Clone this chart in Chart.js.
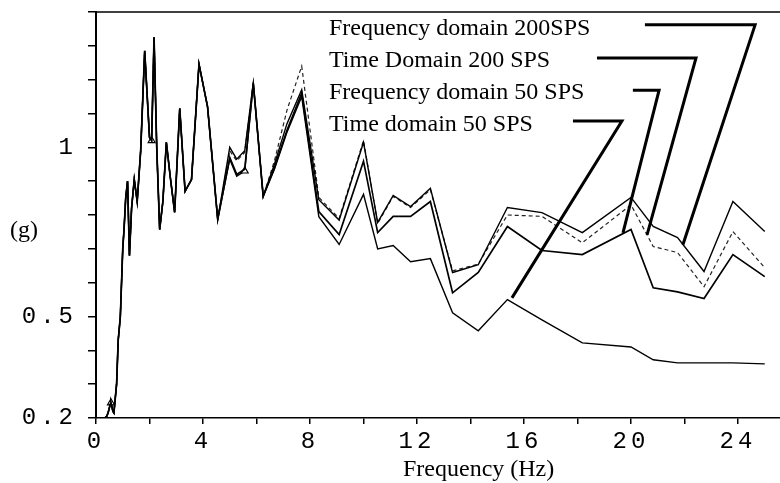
<!DOCTYPE html>
<html>
<head>
<meta charset="utf-8">
<script src="https://cdn.jsdelivr.net/npm/chart.js@4.4.1/dist/chart.umd.min.js"></script>
<style>
  html, body { margin: 0; padding: 0; background: #fff; }
</style>
</head>
<body>
<canvas id="myChart" width="780" height="483"></canvas>
<script>
// frequencies (Hz)
const freq = [0.25, 0.33, 0.4, 0.45, 0.5, 0.53, 0.56, 0.59, 0.63, 0.67,
  0.71, 0.77, 0.83, 0.91, 1.0, 1.05, 1.11, 1.18, 1.25, 1.33,
  1.43, 1.54, 1.67, 1.82, 2.0, 2.08, 2.17, 2.27, 2.38, 2.5,
  2.63, 2.78, 2.94, 3.13, 3.33, 3.57, 3.85, 4.17, 4.55, 5.0,
  5.26, 5.56, 5.88, 6.25, 6.67, 7.14, 7.69, 8.33, 9.09, 10.0,
  10.53, 11.11, 11.76, 12.5, 13.33, 14.29, 15.38, 16.67, 18.18, 20.0,
  20.83, 21.74, 22.73, 23.81, 25.0];

// (g)
const freq_200 = [0.195, 0.2, 0.205, 0.215, 0.23, 0.24, 0.245, 0.235, 0.22, 0.215,
  0.25, 0.3, 0.43, 0.5, 0.7, 0.76, 0.85, 0.9, 0.68, 0.82,
  0.905, 0.84, 0.99, 1.285, 1.03, 1.02, 1.325, 1.0, 0.757, 0.84,
  1.015, 0.91, 0.808, 1.115, 0.87, 0.905, 1.246, 1.12, 0.787, 1.0,
  0.965, 0.99, 1.19, 0.855, 0.95, 1.07, 1.17, 0.845, 0.785, 1.015,
  0.778, 0.858, 0.825, 0.879, 0.63, 0.653, 0.822, 0.807, 0.748, 0.852,
  0.766, 0.733, 0.633, 0.84, 0.751];
const time_200 = [0.195, 0.2, 0.205, 0.215, 0.23, 0.24, 0.245, 0.235, 0.22, 0.215,
  0.25, 0.3, 0.43, 0.5, 0.7, 0.76, 0.85, 0.9, 0.68, 0.82,
  0.905, 0.84, 0.99, 1.285, 1.03, 1.02, 1.325, 1.0, 0.757, 0.84,
  1.015, 0.91, 0.808, 1.115, 0.87, 0.905, 1.246, 1.12, 0.787, 0.99,
  0.96, 0.985, 1.19, 0.855, 0.96, 1.11, 1.24, 0.852, 0.79, 1.02,
  0.775, 0.855, 0.822, 0.875, 0.635, 0.655, 0.8, 0.796, 0.718, 0.83,
  0.707, 0.689, 0.588, 0.751, 0.644];
const freq_50 = [0.195, 0.2, 0.205, 0.215, 0.23, 0.24, 0.245, 0.235, 0.22, 0.215,
  0.25, 0.3, 0.43, 0.5, 0.7, 0.76, 0.85, 0.9, 0.68, 0.82,
  0.905, 0.84, 0.99, 1.285, 1.03, 1.02, 1.325, 1.0, 0.757, 0.84,
  1.015, 0.91, 0.808, 1.115, 0.87, 0.905, 1.246, 1.12, 0.787, 0.97,
  0.92, 0.935, 1.19, 0.855, 0.94, 1.05, 1.16, 0.81, 0.742, 0.959,
  0.748, 0.796, 0.796, 0.84, 0.57, 0.63, 0.766, 0.695, 0.683, 0.757,
  0.585, 0.573, 0.553, 0.683, 0.618];
const time_50 = [0.195, 0.2, 0.205, 0.215, 0.23, 0.24, 0.245, 0.235, 0.22, 0.215,
  0.25, 0.3, 0.43, 0.5, 0.7, 0.76, 0.85, 0.9, 0.68, 0.82,
  0.905, 0.84, 0.99, 1.285, 1.03, 1.02, 1.325, 1.0, 0.757, 0.84,
  1.015, 0.91, 0.808, 1.115, 0.87, 0.905, 1.246, 1.12, 0.787, 0.965,
  0.915, 0.93, 1.19, 0.855, 0.935, 1.045, 1.15, 0.795, 0.713, 0.861,
  0.7, 0.71, 0.662, 0.671, 0.511, 0.458, 0.55, 0.49, 0.422, 0.41,
  0.372, 0.363, 0.363, 0.363, 0.36];

const series_names = ['Frequency domain 200SPS', 'Time Domain 200 SPS', 'Frequency domain 50 SPS', 'Time domain 50 SPS'];

// points that carry a small triangle marker in the figure
const marked = [6, 25, 41];

const x_ticks = [0, 2, 4, 6, 8, 10, 12, 14, 16, 18, 20, 22, 24];
const x_labels = ['0', '', '4', '', '8', '', '12', '', '16', '', '20', '', '24'];
const y_ticks = [0.2, 0.3, 0.4, 0.5, 0.6, 0.7, 0.8, 0.9, 1.0, 1.1, 1.2, 1.3, 1.4];
const y_labels = ['0.2', '', '', '0.5', '', '', '', '', '1', '', '', '', ''];

// leader lines from the labels to the curves, in data units
const leaders = [
  [[20.52, 1.362], [24.64, 1.362], [21.94, 0.712]],
  [[18.73, 1.264], [22.43, 1.264], [20.60, 0.741]],
  [[20.07, 1.169], [21.05, 1.169], [19.70, 0.747]],
  [[17.83, 1.078], [19.66, 1.078], [15.55, 0.555]]
];

function pts(ys) {
  return freq.map((f, i) => ({x: f, y: ys[i]}));
}

const annotate = {
  id: 'annotate',
  beforeDraw(chart) {
    chart.ctx.letterSpacing = '4px';
  },
  beforeDatasetsDraw(chart) {
    chart.ctx.letterSpacing = '0px';
  },
  afterDraw(chart) {
    const ctx = chart.ctx;
    const xs = chart.scales.x, ys = chart.scales.y;
    const area = chart.chartArea;
    ctx.save();
    ctx.letterSpacing = '0px';
    // top frame line
    ctx.strokeStyle = '#000';
    ctx.lineWidth = 1.5;
    ctx.beginPath();
    ctx.moveTo(area.left, area.top);
    ctx.lineTo(area.right, area.top);
    ctx.stroke();

    ctx.fillStyle = '#000';
    ctx.font = '24px "Liberation Serif"';
    ctx.textBaseline = 'alphabetic';
    ctx.textAlign = 'left';
    const base = [35, 67, 99, 131];
    series_names.forEach((name, i) => ctx.fillText(name, 329, base[i]));
    ctx.fillText('Frequency (Hz)', 403, 476);
    ctx.textAlign = 'center';
    ctx.textBaseline = 'middle';
    ctx.fillText('(g)', 24, 231);

    ctx.lineWidth = 3;
    ctx.lineJoin = 'miter';
    leaders.forEach(l => {
      ctx.beginPath();
      l.forEach((p, j) => {
        const px = xs.getPixelForValue(p[0]), py = ys.getPixelForValue(p[1]);
        if (j === 0) ctx.moveTo(px, py); else ctx.lineTo(px, py);
      });
      ctx.stroke();
    });
    ctx.restore();
  }
};

const ctx = document.getElementById('myChart');
new Chart(ctx, {
  type: 'line',
  data: {
    datasets: [
      {label: series_names[0], data: pts(freq_200), borderColor: '#000', borderWidth: 1.4},
      {label: series_names[1], data: pts(time_200), borderColor: '#222', borderWidth: 1.2, borderDash: [4, 3]},
      {label: series_names[2], data: pts(freq_50), borderColor: '#000', borderWidth: 1.7},
      {
        label: series_names[3], data: pts(time_50), borderColor: '#000', borderWidth: 1.4,
        pointStyle: 'triangle',
        pointRadius: c => marked.includes(c.dataIndex) ? 4 : 0,
        pointBorderWidth: 1.2,
        pointBorderColor: '#000',
        pointBackgroundColor: '#fff'
      }
    ]
  },
  options: {
    responsive: false,
    animation: false,
    elements: {point: {radius: 0}, line: {tension: 0}},
    layout: {padding: {top: 12, left: 0, right: 0, bottom: 0}},
    plugins: {legend: {display: false}, tooltip: {enabled: false}},
    scales: {
      x: {
        type: 'linear',
        min: 0,
        max: 25.57,
        afterFit: s => { s.height = 65; s.paddingLeft = 0; s.paddingRight = 0; },
        afterBuildTicks: s => { s.ticks = x_ticks.map(v => ({value: v})); },
        ticks: {
          callback: (v, i) => x_labels[i],
          font: {family: 'Liberation Mono', size: 24},
          color: '#000',
          padding: 3,
          maxRotation: 0,
          autoSkip: false
        },
        grid: {drawOnChartArea: false, tickLength: 6, color: '#000', lineWidth: 1.5},
        border: {color: '#000', width: 1.5}
      },
      y: {
        min: 0.2,
        max: 1.4,
        afterFit: s => { s.width = 96; s.paddingTop = 0; s.paddingBottom = 0; },
        afterBuildTicks: s => { s.ticks = y_ticks.map(v => ({value: v})); },
        ticks: {
          callback: (v, i) => y_labels[i],
          font: {family: 'Liberation Mono', size: 24},
          color: '#000',
          padding: 11,
          autoSkip: false
        },
        grid: {drawOnChartArea: false, tickLength: 8, color: '#000', lineWidth: 1.5},
        border: {color: '#000', width: 2}
      }
    }
  },
  plugins: [annotate]
});
</script>
</body>
</html>
